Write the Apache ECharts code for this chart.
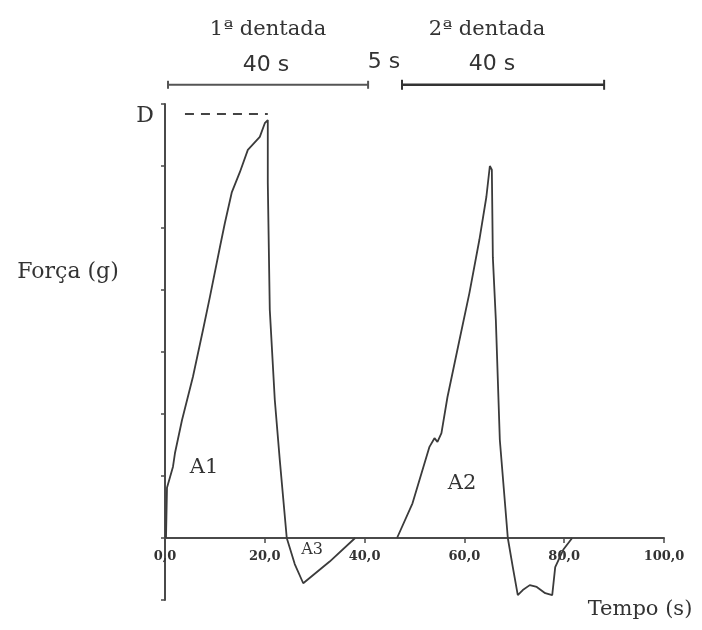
<!DOCTYPE html>
<html>
<head>
<meta charset="utf-8">
<script src="https://cdn.jsdelivr.net/npm/echarts@6/dist/echarts.min.js"></script>
<style>
  html, body { margin: 0; padding: 0; background: #fff; }
  #chart { width: 702px; height: 630px; }
</style>
</head>
<body>
<div id="chart"></div>
<script>
// Texture profile: force vs. time over two consecutive bites.
// Time in seconds, force in relative units (one tick = one unit).
const firstBite = [
  [0.2, 0.0], [0.4, 0.81], [1.6, 1.15], [2.0, 1.37], [3.4, 1.9], [5.6, 2.6],
  [7.6, 3.35], [9.0, 3.89], [11.0, 4.69], [12.0, 5.08], [13.4, 5.58],
  [15.0, 5.9], [16.6, 6.26], [19.0, 6.47], [20.0, 6.69], [20.6, 6.74],
  [20.6, 5.73], [21.0, 3.68], [22.0, 2.23], [23.0, 1.26], [24.4, 0.0],
  [26.0, -0.42], [27.7, -0.73], [33.0, -0.38], [38.1, 0.0]
];
const secondBite = [
  [46.5, 0.0], [49.6, 0.56], [53.0, 1.47], [54.0, 1.61], [54.6, 1.55],
  [55.4, 1.69], [56.6, 2.27], [59.0, 3.19], [61.0, 3.95], [63.0, 4.81],
  [64.4, 5.5], [65.1, 6.0], [65.5, 5.94], [65.7, 4.53], [66.3, 3.52],
  [67.1, 1.58], [68.7, 0.0], [69.7, -0.47], [70.7, -0.92], [71.7, -0.84],
  [73.1, -0.76], [74.5, -0.79], [76.2, -0.89], [77.6, -0.92], [78.2, -0.47],
  [79.8, -0.19], [81.6, 0.0]
];
// Peak force level D (dashed reference line) and its horizontal extent
const dLevel = 6.84;
const dSpan = [4.0, 20.6];
// Bite duration brackets above the plot: [start, end] in seconds
const bracketSpans = [[0.6, 40.7], [47.5, 88.0]];
const bracketLevel = 7.31;
// X tick values
const xTicks = [0, 20, 40, 60, 80, 100];
const yMin = -1, yMax = 7;

const ink = '#3b3b3b';
const serif = '"DejaVu Serif", "Liberation Serif", serif';

const chart = echarts.init(document.getElementById('chart'));

const gridTop = 104, gridBottom = 30, gridHeight = 630 - gridTop - gridBottom;
// the time axis sits on the zero-force line, one unit above the grid bottom
const zeroOffset = -gridHeight * (0 - yMin) / (yMax - yMin);

chart.setOption({
  animation: false,
  backgroundColor: '#fff',
  grid: { left: 165, right: 38, top: gridTop, bottom: gridBottom, containLabel: false },
  xAxis: {
    type: 'value',
    min: xTicks[0],
    max: xTicks[xTicks.length - 1],
    interval: 20,
    offset: zeroOffset,
    axisLine: { onZero: false, lineStyle: { color: '#4a4a4a', width: 2 } },
    axisTick: { show: true, inside: false, length: 5, lineStyle: { color: '#4a4a4a', width: 1.5 } },
    axisLabel: {
      margin: 12,
      color: '#333',
      fontFamily: serif,
      fontSize: 13,
      fontWeight: 'bold',
      formatter: v => v.toFixed(1).replace('.', ',')
    },
    splitLine: { show: false }
  },
  yAxis: {
    type: 'value',
    min: yMin,
    max: yMax,
    interval: 1,
    axisLine: { show: true, lineStyle: { color: '#4a4a4a', width: 2 } },
    axisTick: { show: true, inside: false, length: 4, lineStyle: { color: '#4a4a4a', width: 1.5 } },
    axisLabel: { show: false },
    splitLine: { show: false }
  },
  series: [
    {
      name: '1ª dentada', type: 'line', data: firstBite, showSymbol: false,
      lineStyle: { color: ink, width: 1.8 }, z: 3
    },
    {
      name: '2ª dentada', type: 'line', data: secondBite, showSymbol: false,
      lineStyle: { color: ink, width: 1.8 }, z: 3
    },
    {
      name: 'D', type: 'line', showSymbol: false,
      data: [[dSpan[0], dLevel], [dSpan[1], dLevel]],
      lineStyle: { color: '#444', width: 2, type: [9, 7] }
    }
  ]
});

// Brackets and text labels, placed from the axis scales
function px(t, v) { return chart.convertToPixel({ gridIndex: 0 }, [t, v]); }

const graphics = [];
bracketSpans.forEach((span, i) => {
  const a = px(span[0], bracketLevel);
  const b = px(span[1], bracketLevel);
  const w = i === 0 ? 2 : 2.6;
  const cap = i === 0 ? 4 : 5;
  const col = i === 0 ? '#555' : '#333';
  graphics.push({ type: 'line', shape: { x1: a[0], y1: a[1], x2: b[0], y2: b[1] }, style: { stroke: col, lineWidth: w } });
  graphics.push({ type: 'line', shape: { x1: a[0], y1: a[1] - cap, x2: a[0], y2: a[1] + cap }, style: { stroke: col, lineWidth: 2 } });
  graphics.push({ type: 'line', shape: { x1: b[0], y1: b[1] - cap, x2: b[0], y2: b[1] + cap }, style: { stroke: col, lineWidth: 2 } });
});

function label(text, x, y, size, family, align) {
  graphics.push({
    type: 'text', x: x, y: y,
    style: {
      text: text, fill: '#333', font: size + 'px ' + family,
      align: align || 'center', verticalAlign: 'middle'
    }
  });
}
const sans = '"DejaVu Sans", sans-serif';
label('1ª dentada', 268, 30, 21, serif);
label('40 s', 266, 65, 22, sans);
label('5 s', 384, 62, 22, sans);
label('2ª dentada', 487, 30, 21, serif);
label('40 s', 492, 64, 22, sans);
label('D', 145, 116, 22, serif);
label('Força (g)', 68, 272, 22, serif);
label('Tempo (s)', 640, 610, 21, serif);
label('A1', 204, 468, 21, serif);
label('A2', 462, 484, 21, serif);
label('A3', 312, 550, 16, serif);

chart.setOption({ graphic: graphics });
</script>
</body>
</html>
